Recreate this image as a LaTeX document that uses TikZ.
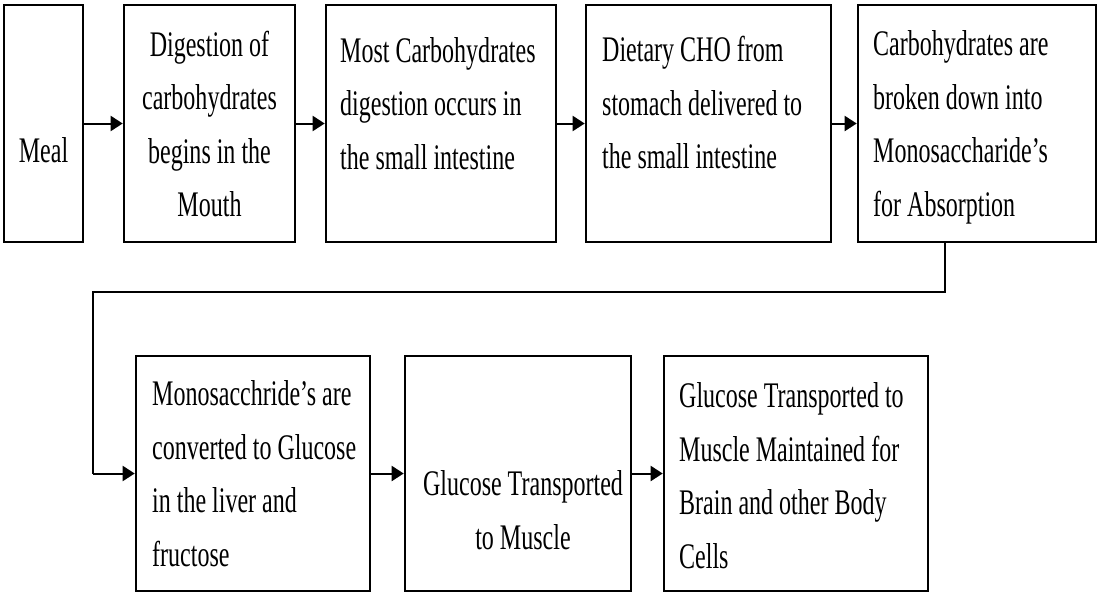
\documentclass[tikz,border=0pt]{standalone}
\usepackage{fontspec}
\setmainfont[FakeStretch=0.667]{Liberation Serif}
\usetikzlibrary{arrows.meta}
\begin{document}
\begin{tikzpicture}[x=1pt,y=-1pt,
  boxnode/.style={draw=black, line width=2.6pt, inner sep=0pt, rectangle},
  txt/.style={inner sep=0pt, text=black, font=\fontsize{36}{53.5}\selectfont},
  arr/.style={draw=black, line width=2pt, -{Triangle[length=12pt,width=15pt]}},
  retline/.style={draw=black, line width=1.4pt}]
\fill[white] (0,0) rectangle (1101,597);
\useasboundingbox (0,0) rectangle (1101,597);
% boxes
\node[boxnode, minimum width=79pt, minimum height=237pt] (b1) at (43.5,123.5) {};
\node[boxnode, minimum width=171pt, minimum height=237pt] (b2) at (209.5,123.5) {};
\node[boxnode, minimum width=230pt, minimum height=237pt] (b3) at (441,123.5) {};
\node[boxnode, minimum width=245pt, minimum height=237pt] (b4) at (708.5,123.5) {};
\node[boxnode, minimum width=238pt, minimum height=237pt] (b5) at (977,123.5) {};
\node[boxnode, minimum width=234pt, minimum height=235pt] (b6) at (253,473.5) {};
\node[boxnode, minimum width=226pt, minimum height=235pt] (b7) at (518,473.5) {};
\node[boxnode, minimum width=264pt, minimum height=235pt] (b8) at (796,473.5) {};
% texts
\node[txt, anchor=north] (t1) at (43.5,137.5) {Meal};
\node[txt, anchor=north, align=center] (t2) at (209.5,30.5) {Digestion of\\carbohydrates\\begins in the\\Mouth};
\node[txt, anchor=north west, align=left] (t3) at (340,37) {Most Carbohydrates\\digestion occurs in\\the small intestine};
\node[txt, anchor=north west, align=left] (t4) at (602,36) {Dietary CHO from\\stomach delivered to\\the small intestine};
\node[txt, anchor=north west, align=left] (t5) at (873,30.5) {Carbohydrates are\\broken down into\\Monosaccharide’s\\for Absorption};
\node[txt, anchor=north west, align=left] (t6) at (152,380.5) {Monosacchride’s are\\converted to Glucose\\in the liver and\\fructose};
\node[txt, anchor=north, align=center] (t7) at (523,470.5) {Glucose Transported\\to Muscle};
\node[txt, anchor=north west, align=left] (t8) at (679,382.5) {Glucose Transported to\\Muscle Maintained for\\Brain and other Body\\Cells};
% connectors
\draw[arr] (b1.east) -- (b2.west);
\draw[arr] (b2.east) -- (b3.west);
\draw[arr] (b3.east) -- (b4.west);
\draw[arr] (b4.east) -- (b5.west);
\coordinate (c1) at (945,292);
\coordinate (c2) at (93,292);
\draw[retline] (b5.south -| c1) -- (c1) -- (c2) -- (c2 |- b6.west);
\draw[arr] (c2 |- b6.west) -- (b6.west);
\draw[arr] (b6.east) -- (b7.west);
\draw[arr] (b7.east) -- (b8.west);
\end{tikzpicture}
\end{document}
